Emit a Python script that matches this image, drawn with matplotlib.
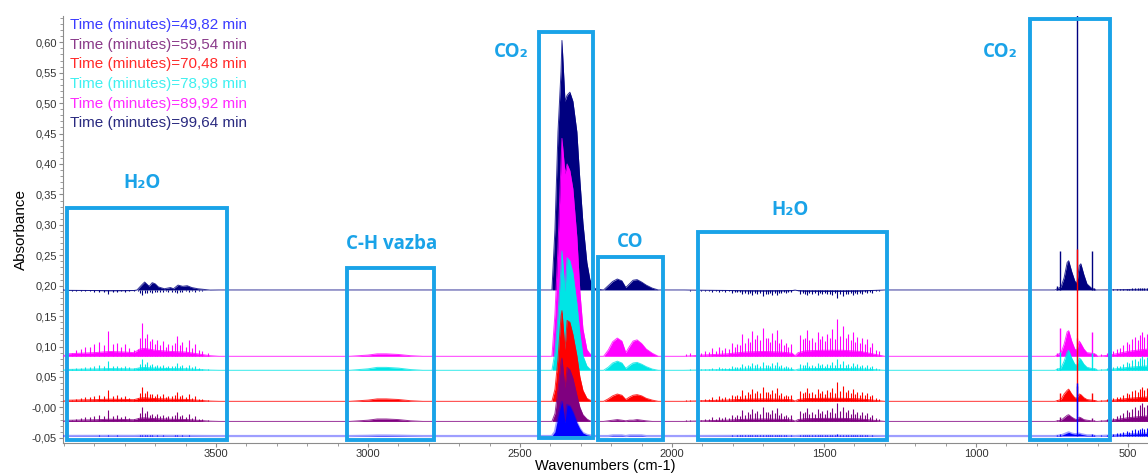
import matplotlib.pyplot as plt
import numpy as np
from matplotlib.patches import Rectangle
from matplotlib.ticker import MultipleLocator, FixedLocator, FixedFormatter

# traces (legend order)
labels = ["Time (minutes)=49,82 min", "Time (minutes)=59,54 min", "Time (minutes)=70,48 min",
          "Time (minutes)=78,98 min", "Time (minutes)=89,92 min", "Time (minutes)=99,64 min"]
colors = ["#0000ff", "#800080", "#ff0000", "#00e5e5", "#ff00ff", "#000080"]
text_colors = ["#3b3bff", "#8a3a8a", "#ff2a2a", "#3ff0f0", "#ff2aff", "#2a2a80"]
offsets = [-0.047, -0.023, 0.010, 0.061, 0.084, 0.193]

# CO2 stretch band (absorbance above baseline)
co2_wn = [2395, 2385, 2375, 2365, 2362, 2352, 2345, 2336, 2326, 2313, 2303, 2293, 2280, 2270, 2253]
co2_rel = [
    [0, 0.007, 0.032, 0.052, 0.056, 0.023, 0.051, 0.049, 0.039, 0.022, 0.012, 0.005, 0.002, 0.001, 0],
    [0, 0.013, 0.053, 0.098, 0.104, 0.055, 0.089, 0.085, 0.071, 0.043, 0.023, 0.011, 0.004, 0.001, 0],
    [0, 0.020, 0.070, 0.140, 0.149, 0.085, 0.133, 0.130, 0.110, 0.075, 0.040, 0.018, 0.005, 0.002, 0],
    [0, 0.030, 0.090, 0.170, 0.196, 0.130, 0.185, 0.180, 0.160, 0.110, 0.060, 0.024, 0.007, 0.002, 0],
    [0, 0.070, 0.180, 0.320, 0.358, 0.300, 0.316, 0.305, 0.275, 0.196, 0.106, 0.045, 0.011, 0.004, 0],
    [0, 0.100, 0.260, 0.360, 0.410, 0.310, 0.320, 0.325, 0.310, 0.260, 0.180, 0.110, 0.045, 0.017, 0.002],
]

# CO band
co_wn = [2225, 2210, 2195, 2180, 2165, 2152, 2140, 2128, 2115, 2100, 2085, 2065, 2045]
co_rel = [
    [0, 0, 0.001, 0.001, 0.001, 0, 0.001, 0.001, 0.001, 0.001, 0, 0, 0],
    [0, 0.001, 0.002, 0.003, 0.002, 0.001, 0.002, 0.002, 0.003, 0.002, 0.001, 0, 0],
    [0, 0.004, 0.009, 0.012, 0.010, 0.003, 0.007, 0.010, 0.011, 0.009, 0.005, 0.002, 0],
    [0, 0.005, 0.012, 0.015, 0.012, 0.003, 0.008, 0.012, 0.013, 0.010, 0.006, 0.002, 0],
    [0, 0.010, 0.024, 0.030, 0.025, 0.006, 0.016, 0.025, 0.027, 0.021, 0.012, 0.005, 0],
    [0, 0.007, 0.014, 0.018, 0.015, 0.004, 0.010, 0.016, 0.017, 0.013, 0.008, 0.003, 0],
]

# CO2 bending band lobes
bend_wn = [740, 720, 710, 700, 695, 685, 675, 668, 660, 655, 645, 635, 620, 605]
bend_rel = [
    [0, 0.001, 0.003, 0.005, 0.006, 0.004, 0.003, 0.003, 0.004, 0.003, 0.002, 0.001, 0.001, 0],
    [0, 0.002, 0.006, 0.010, 0.011, 0.007, 0.004, 0.003, 0.007, 0.006, 0.003, 0.002, 0.001, 0],
    [0, 0.003, 0.012, 0.018, 0.020, 0.012, 0.006, 0.005, 0.012, 0.011, 0.006, 0.003, 0.002, 0.001],
    [0, 0.004, 0.015, 0.030, 0.033, 0.020, 0.010, 0.008, 0.020, 0.018, 0.010, 0.005, 0.003, 0.002],
    [0, 0.006, 0.020, 0.040, 0.042, 0.025, 0.012, 0.010, 0.025, 0.021, 0.012, 0.006, 0.005, 0.003],
    [0, 0.005, 0.020, 0.045, 0.048, 0.030, 0.015, 0.010, 0.040, 0.043, 0.025, 0.010, 0.003, 0],
]
bend_spike_wn = [735, 723, 667, 618, 612]
bend_spike_h = [
    [0.001, 0.003, 0.087, 0.003, 0.001],
    [0.002, 0.007, 0.058, 0.006, 0.002],
    [0.003, 0.013, 0.250, 0.013, 0.003],
    [0.004, 0.030, 0.040, 0.028, 0.004],
    [0.005, 0.047, 0.030, 0.040, 0.006],
    [0.006, 0.064, 0.500, 0.064, 0.004],
]

# water bands (shape read from the 89,92 min trace) + per trace scale
hi_env_wn = [3990, 3950, 3900, 3850, 3800, 3770, 3750, 3735, 3700, 3650, 3600, 3560, 3520, 3490]
hi_env = [0.004, 0.005, 0.006, 0.008, 0.007, 0.006, 0.012, 0.013, 0.010, 0.008, 0.007, 0.004, 0.001, 0]
hi_spike_wn = [3975, 3960, 3945, 3930, 3915, 3900, 3885, 3870, 3855, 3840,
               3825, 3812, 3800, 3785, 3770, 3756, 3750, 3743, 3735, 3727,
               3718, 3711, 3702, 3694, 3684, 3674, 3666, 3658, 3645, 3636,
               3628, 3620, 3612, 3600, 3589, 3580, 3569, 3557, 3546, 3526]
hi_spike_h = [0.006, 0.010, 0.012, 0.015, 0.015, 0.020, 0.023, 0.018, 0.042, 0.020,
              0.022, 0.016, 0.020, 0.014, 0.010, 0.012, 0.030, 0.054, 0.030, 0.037,
              0.025, 0.028, 0.020, 0.026, 0.018, 0.025, 0.016, 0.020, 0.018, 0.022,
              0.034, 0.018, 0.024, 0.016, 0.026, 0.014, 0.020, 0.010, 0.008, 0.005]

mid_env_wn = [1960, 1900, 1820, 1760, 1700, 1640, 1605, 1595, 1585, 1560, 1500, 1440, 1380, 1330, 1300]
mid_env = [0, 0.002, 0.004, 0.007, 0.008, 0.007, 0.005, 0.001, 0.006, 0.009, 0.010, 0.010, 0.008, 0.003, 0]
mid_spike_wn = [1955, 1940, 1918, 1905, 1890, 1878, 1868, 1856, 1845, 1835,
                1825, 1814, 1803, 1793, 1785, 1777, 1770, 1760, 1750, 1743,
                1737, 1728, 1720, 1710, 1700, 1692, 1685, 1677, 1670, 1662,
                1655, 1647, 1640, 1632, 1625, 1617, 1610, 1578, 1570, 1563,
                1556, 1548, 1540, 1530, 1520, 1512, 1505, 1497, 1490, 1480,
                1472, 1465, 1457, 1447, 1437, 1428, 1420, 1412, 1405, 1397,
                1390, 1382, 1375, 1366, 1358, 1350, 1342, 1330, 1320]
mid_spike_h = [0.004, 0.005, 0.010, 0.006, 0.008, 0.007, 0.013, 0.009, 0.016, 0.011,
               0.014, 0.012, 0.022, 0.016, 0.020, 0.018, 0.036, 0.022, 0.030, 0.024,
               0.042, 0.028, 0.035, 0.026, 0.046, 0.030, 0.030, 0.024, 0.038, 0.027,
               0.044, 0.022, 0.028, 0.018, 0.022, 0.016, 0.020, 0.035, 0.028, 0.030,
               0.044, 0.026, 0.030, 0.024, 0.040, 0.028, 0.033, 0.025, 0.036, 0.030,
               0.045, 0.028, 0.062, 0.034, 0.049, 0.030, 0.036, 0.026, 0.040, 0.024,
               0.032, 0.022, 0.030, 0.020, 0.028, 0.016, 0.022, 0.010, 0.008]

right_env_wn = [600, 560, 530, 500, 470, 434]
right_env = [0, 0.002, 0.005, 0.008, 0.010, 0.012]
right_spike_wn = [590, 570, 548, 536, 526, 515, 503, 495, 486, 477, 468, 460, 454, 446, 438]
right_spike_h = [0.004, 0.006, 0.008, 0.012, 0.013, 0.018, 0.024, 0.020, 0.028, 0.031, 0.026, 0.035, 0.040, 0.032, 0.037]

ch_wn = [3060, 3000, 2970, 2940, 2900, 2860, 2820]
ch_env = [0, 0.002, 0.004, 0.004, 0.003, 0.001, 0]

hi_scale = [0.04, 0.45, 0.45, 0.35, 1.0, -0.15]
mid_scale = [0.05, 0.5, 0.5, 0.3, 1.0, -0.2]
right_scale = [0.35, 0.75, 0.6, 0.6, 1.0, 0.1]
ch_scale = [0.2, 1.0, 1.0, 1.2, 1.0, 0.0]

# own water structure of the 99,64 min trace
navy_hi_wn = [3760, 3745, 3735, 3720, 3710, 3700, 3690, 3670, 3650, 3640, 3625, 3610, 3595, 3580, 3560]
navy_hi_rel = [0, 0.008, 0.013, 0.006, 0.012, 0.010, 0.005, 0.002, 0.004, 0.002, 0.008, 0.006, 0.007, 0.004, 0.002]

y_ticks = [-0.05, 0.0, 0.05, 0.10, 0.15, 0.20, 0.25, 0.30, 0.35, 0.40, 0.45, 0.50, 0.55, 0.60]
y_ticklabels = ["-0,05", "-0,00", "0,05", "0,10", "0,15", "0,20", "0,25", "0,30",
                "0,35", "0,40", "0,45", "0,50", "0,55", "0,60"]
x_ticks = [3500, 3000, 2500, 2000, 1500, 1000, 500]

# annotation boxes: (wn left, wn right, abs bottom, abs top, text, text wn, text abs)
boxes = [
    (3990, 3464, -0.053, 0.327, "H\u2082O", 3743, 0.368),
    (3069, 2783, -0.053, 0.229, "C-H vazba", 2921, 0.268),
    (2437, 2260, -0.051, 0.617, "CO\u2082", 2530, 0.584),
    (2243, 2030, -0.053, 0.247, "CO", 2138, 0.272),
    (1914, 1293, -0.053, 0.288, "H\u2082O", 1612, 0.324),
    (822, 559, -0.053, 0.638, "CO\u2082", 921, 0.584),
]
box_color = "#1aa3e8"

fig = plt.figure(figsize=(11.48, 4.74), dpi=100)
ax = fig.add_axes([0.055, 0.066, 0.945, 0.900])

base_wn = [4003, 434] + co2_wn + co_wn + bend_wn + hi_env_wn + mid_env_wn + right_env_wn + ch_wn

for i in reversed(range(len(labels))):
    rel = ([0, 0] + co2_rel[i] + co_rel[i] + bend_rel[i]
           + [v * hi_scale[i] for v in hi_env] + [v * mid_scale[i] for v in mid_env]
           + [v * right_scale[i] for v in right_env] + [v * ch_scale[i] for v in ch_env])
    wn = base_wn
    if i == 5:
        # the last trace has its own band shape in the high water region
        keep = [k for k, w in enumerate(base_wn) if not (3760 >= w >= 3560)]
        wn = [base_wn[k] for k in keep] + navy_hi_wn
        rel = [rel[k] for k in keep] + navy_hi_rel
    order = np.argsort(wn)[::-1]
    x = np.array(wn, dtype=float)[order]
    y = offsets[i] + np.array(rel)[order]
    c = colors[i]
    z = 10 - i
    if i == 0:
        ax.plot(x, y, color=c, lw=1.6, alpha=0.38, zorder=z)
    else:
        ax.plot(x, y, color=c, lw=0.7, alpha=0.8, zorder=z)
    ax.fill_between(x, offsets[i], y, color=c, lw=0, zorder=z)
    ax.vlines(hi_spike_wn, offsets[i], offsets[i] + np.array(hi_spike_h) * hi_scale[i], color=c, lw=0.8, zorder=z)
    ax.vlines(mid_spike_wn, offsets[i], offsets[i] + np.array(mid_spike_h) * mid_scale[i], color=c, lw=0.8, zorder=z)
    ax.vlines(right_spike_wn, offsets[i], offsets[i] + np.array(right_spike_h) * right_scale[i], color=c, lw=0.8, zorder=z)
    ax.vlines(bend_spike_wn, offsets[i], offsets[i] + np.array(bend_spike_h[i]), color=c, lw=1.0, zorder=z)

for x0, x1, y0, y1, txt, tx, ty in boxes:
    ax.add_patch(Rectangle((x0, y0), x1 - x0, y1 - y0, fill=False, ec=box_color, lw=2.8, zorder=20, clip_on=False))
    ax.text(tx, ty, txt, color=box_color, fontsize=13.5, fontweight="bold", ha="center", va="center",
            family=["Open Sans", "DejaVu Sans"], zorder=21)

ax.set_xlim(4003, 434)
ax.set_ylim(-0.058, 0.643)
for s in ["top", "right"]:
    ax.spines[s].set_visible(False)
for s in ["left", "bottom"]:
    ax.spines[s].set_color("#8c8c8c")
ax.yaxis.set_major_locator(FixedLocator(y_ticks))
ax.yaxis.set_major_formatter(FixedFormatter(y_ticklabels))
ax.yaxis.set_minor_locator(MultipleLocator(0.01))
ax.xaxis.set_major_locator(FixedLocator(x_ticks))
ax.xaxis.set_minor_locator(MultipleLocator(100))
ax.tick_params(which="major", length=3, pad=1.5, color="#8c8c8c", labelsize=8, labelcolor="#333333")
ax.tick_params(which="minor", length=2, color="#8c8c8c")
ax.set_ylabel("Absorbance", fontsize=11, family="Liberation Sans", labelpad=3)
ax.set_xlabel("Wavenumbers (cm-1)", fontsize=10.5, family="Liberation Sans", labelpad=0)
for lab in ax.get_xticklabels() + ax.get_yticklabels():
    lab.set_family("Liberation Sans")

for i, lab in enumerate(labels):
    fig.text(0.061, 0.947 - i * 0.0415, lab, color=text_colors[i], fontsize=11,
             family="Liberation Sans", va="center", ha="left")

fig.savefig("out.png", dpi=100)
